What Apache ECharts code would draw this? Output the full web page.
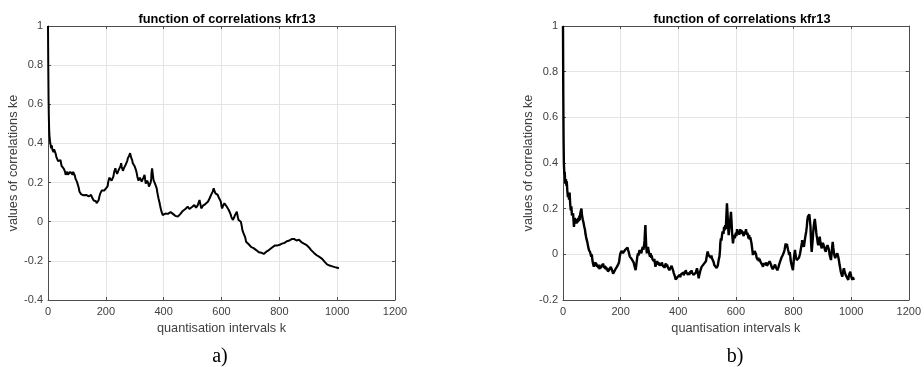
<!DOCTYPE html>
<html>
<head>
<meta charset="utf-8">
<script src="https://cdn.jsdelivr.net/npm/echarts@6/dist/echarts.min.js"></script>
<style>
html,body{margin:0;padding:0;background:#fff;}
#c{width:924px;height:367px;}
</style>
</head>
<body>
<div id="c"></div>
<script>
// ---- data ----
const chartTitle = "function of correlations kfr13";
const xAxisName = "quantisation intervals k";
const yAxisName = "values of correlations ke";
const xTicks = [0, 200, 400, 600, 800, 1000, 1200];
const yTicksA = [-0.4, -0.2, 0, 0.2, 0.4, 0.6, 0.8, 1];
const yTicksB = [-0.2, 0, 0.2, 0.4, 0.6, 0.8, 1];
const captions = ["a)", "b)"];

const kA = [0,1,2,3,4,5,7,9,11,13,15,17,19,21,23,25,27,29,31,33,35,37,39,41,43,45,47,49,51,53,55,57,59,61,63,65,67,69,71,73,75,77,79,81,83,85,87,89,91,93,95,97,100,103,106,109,112,115,118,120,123,126,129,132,135,138,141,143,146,149,152,155,158,160,163,166,168,170,172,175,178,181,183,186,189,192,195,198,201,203,206,208,210,212,214,216,218,220,222,224,226,229,231,233,235,237,239,241,243,245,247,249,251,253,255,257,259,261,263,265,268,270,272,274,276,278,280,282,284,286,287,289,291,293,295,297,299,302,304,306,307,309,311,313,314,316,318,320,322,324,326,328,330,332,334,336,338,339,341,343,345,347,349,351,353,355,357,358,360,361,363,365,367,370,372,374,376,378,380,382,385,388,391,394,397,400,403,406,409,412,415,418,421,424,426,429,432,435,437,440,443,446,449,452,455,458,460,463,466,469,472,475,478,480,483,486,489,492,495,498,501,504,506,509,512,515,518,521,524,527,530,533,536,539,541,544,547,550,553,556,559,561,564,567,570,573,575,577,579,581,584,587,590,592,595,598,600,602,605,608,610,612,614,616,619,622,625,628,631,634,637,639,641,643,645,647,649,651,653,655,657,659,661,663,665,667,669,671,672,674,676,678,680,682,685,688,691,694,697,700,703,706,709,711,714,717,720,723,726,729,732,735,738,741,743,746,749,752,755,758,761,764,767,770,772,775,778,781,784,787,789,792,795,798,801,804,806,809,812,815,818,821,823,826,829,832,835,838,841,844,846,847,849,851,853,856,859,862,865,868,870,873,876,878,880,882,885,888,890,893,896,899,902,905,908,910,913,916,919,922,925,928,931,934,937,940,943,945,948,951,954,957,960,962,965,968,971,974,977,980,983,986,989,992,995,997,1000,1003,1006,1008];
const vA = [1.0,0.78,0.62,0.53,0.47,0.44,0.41,0.40,0.375,0.39,0.37,0.36,0.355,0.37,0.375,0.365,0.345,0.33,0.34,0.32,0.31,0.305,0.315,0.30,0.315,0.30,0.285,0.28,0.29,0.275,0.27,0.265,0.255,0.24,0.23,0.245,0.255,0.24,0.235,0.23,0.245,0.255,0.265,0.25,0.245,0.24,0.255,0.25,0.245,0.235,0.22,0.213,0.205,0.196,0.175,0.153,0.145,0.14,0.145,0.137,0.135,0.14,0.138,0.137,0.132,0.135,0.13,0.128,0.133,0.137,0.125,0.115,0.108,0.102,0.098,0.105,0.094,0.092,0.10,0.11,0.13,0.145,0.153,0.16,0.155,0.158,0.16,0.165,0.158,0.16,0.18,0.2,0.213,0.225,0.215,0.22,0.22,0.21,0.218,0.213,0.23,0.255,0.265,0.273,0.26,0.25,0.245,0.255,0.26,0.25,0.256,0.265,0.285,0.299,0.28,0.27,0.26,0.265,0.275,0.28,0.29,0.285,0.295,0.31,0.324,0.33,0.335,0.345,0.35,0.34,0.33,0.335,0.315,0.30,0.29,0.295,0.285,0.28,0.265,0.255,0.247,0.23,0.22,0.21,0.205,0.21,0.225,0.215,0.22,0.205,0.21,0.213,0.225,0.23,0.24,0.215,0.195,0.188,0.20,0.21,0.22,0.195,0.18,0.17,0.185,0.20,0.22,0.25,0.273,0.265,0.235,0.213,0.205,0.195,0.19,0.188,0.17,0.15,0.135,0.12,0.102,0.08,0.06,0.045,0.034,0.038,0.04,0.042,0.042,0.045,0.04,0.045,0.048,0.05,0.051,0.045,0.04,0.036,0.034,0.03,0.035,0.028,0.026,0.03,0.035,0.04,0.042,0.048,0.055,0.05,0.06,0.065,0.07,0.072,0.077,0.07,0.065,0.072,0.068,0.075,0.08,0.082,0.085,0.078,0.072,0.08,0.085,0.095,0.111,0.09,0.068,0.075,0.082,0.08,0.085,0.09,0.095,0.10,0.102,0.11,0.12,0.13,0.137,0.14,0.155,0.171,0.16,0.15,0.145,0.14,0.145,0.137,0.125,0.12,0.111,0.10,0.08,0.068,0.08,0.09,0.094,0.09,0.085,0.085,0.075,0.065,0.06,0.051,0.04,0.025,0.015,0.009,0.015,0.02,0.026,0.035,0.042,0.045,0.051,0.035,0.02,0.009,0.012,0.008,0.009,0.0,-0.015,-0.03,-0.042,-0.05,-0.058,-0.063,-0.068,-0.08,-0.102,-0.108,-0.112,-0.115,-0.119,-0.125,-0.13,-0.128,-0.132,-0.135,-0.136,-0.14,-0.145,-0.148,-0.153,-0.156,-0.158,-0.16,-0.158,-0.16,-0.162,-0.165,-0.16,-0.158,-0.153,-0.15,-0.148,-0.145,-0.14,-0.138,-0.136,-0.132,-0.128,-0.125,-0.122,-0.12,-0.119,-0.122,-0.118,-0.115,-0.118,-0.112,-0.11,-0.112,-0.108,-0.106,-0.108,-0.104,-0.102,-0.1,-0.098,-0.1,-0.096,-0.095,-0.094,-0.088,-0.08,-0.077,-0.082,-0.088,-0.09,-0.092,-0.096,-0.098,-0.094,-0.092,-0.094,-0.1,-0.104,-0.1,-0.1,-0.108,-0.112,-0.108,-0.11,-0.118,-0.12,-0.125,-0.13,-0.135,-0.14,-0.145,-0.148,-0.152,-0.158,-0.162,-0.165,-0.17,-0.172,-0.175,-0.178,-0.18,-0.185,-0.187,-0.19,-0.195,-0.2,-0.205,-0.21,-0.213,-0.218,-0.222,-0.223,-0.224,-0.225,-0.225,-0.228,-0.23,-0.23,-0.232,-0.232,-0.233,-0.235,-0.236,-0.238,-0.237];

const kB = [0,1,2,3,4,5,6,7,8,10,12,13,15,17,19,21,23,25,27,29,31,33,35,37,38,40,41,43,45,47,49,51,53,55,57,58,60,62,64,66,67,69,71,72,74,76,78,79,81,83,85,87,89,90,92,94,96,98,100,102,104,106,107,109,111,113,115,116,118,120,122,124,125,127,129,131,133,135,137,139,141,143,145,147,149,150,152,154,156,158,160,162,164,166,168,170,172,174,176,178,180,182,183,185,187,189,191,193,195,197,199,201,203,205,206,208,210,212,214,216,218,220,222,224,226,228,230,232,234,236,238,240,243,245,247,249,250,252,254,256,258,260,262,264,266,268,270,272,274,276,277,279,281,283,285,286,287,289,291,293,295,297,299,300,302,304,306,308,310,311,313,315,317,319,321,323,325,327,329,331,333,335,337,339,341,343,345,346,348,350,352,354,355,357,359,361,363,365,367,369,371,373,375,377,379,380,382,384,386,388,389,391,393,395,397,399,401,403,405,407,409,411,413,415,417,419,421,423,425,426,428,430,432,434,436,438,440,442,444,446,448,449,451,453,455,457,459,461,463,465,467,469,471,473,475,477,479,481,483,485,487,489,491,493,494,496,498,500,502,504,506,508,509,511,513,515,517,519,521,523,525,527,529,531,533,535,537,539,541,543,545,546,548,550,552,554,555,557,559,561,563,565,567,569,571,573,575,577,579,581,583,585,587,589,590,592,594,596,598,600,602,604,606,608,610,612,613,615,617,619,621,623,625,627,629,631,633,635,636,638,640,642,644,646,648,650,652,654,656,658,659,661,663,665,668,670,672,674,676,678,680,682,685,687,689,691,694,696,698,700,702,704,706,708,711,713,715,717,720,722,724,726,728,730,732,734,736,738,740,742,744,746,748,750,752,754,756,758,760,762,765,767,769,771,773,775,777,779,781,783,785,787,789,790,792,794,796,798,800,802,804,805,807,809,811,813,815,817,819,821,823,825,827,829,830,832,834,836,838,840,842,844,846,848,850,851,853,855,857,859,861,863,865,867,868,870,872,874,875,877,879,880,882,884,886,887,889,891,893,895,897,898,900,902,904,905,907,909,911,912,914,916,918,921,923,925,927,930,932,934,936,938,940,942,945,947,950,952,954,956,958,960,962,964,966,969,971,973,975,977,979,981,983,985,987,990,992,994,997,999,1001,1004,1006,1008,1010,1012];
const vB = [1.0,0.70,0.50,0.40,0.37,0.35,0.36,0.33,0.31,0.33,0.30,0.32,0.28,0.25,0.27,0.24,0.27,0.22,0.193,0.21,0.17,0.164,0.18,0.14,0.12,0.15,0.16,0.14,0.15,0.135,0.155,0.14,0.16,0.145,0.17,0.15,0.18,0.185,0.20,0.17,0.164,0.15,0.14,0.135,0.12,0.11,0.09,0.092,0.07,0.062,0.05,0.035,0.03,0.019,0.025,0.01,0.004,-0.01,0.0,-0.025,-0.04,-0.035,-0.054,-0.045,-0.05,-0.035,-0.05,-0.04,-0.055,-0.045,-0.06,-0.045,-0.054,-0.065,-0.05,-0.06,-0.061,-0.045,-0.055,-0.04,-0.047,-0.06,-0.05,-0.065,-0.055,-0.061,-0.07,-0.06,-0.075,-0.068,-0.076,-0.065,-0.07,-0.055,-0.054,-0.068,-0.075,-0.085,-0.09,-0.078,-0.08,-0.065,-0.07,-0.06,-0.055,-0.06,-0.054,-0.04,-0.03,-0.01,0.004,0.0,0.015,0.01,0.019,0.005,0.012,0.0,0.004,0.02,0.015,0.026,0.02,0.03,0.019,0.01,0.0,-0.01,-0.017,-0.01,-0.02,-0.015,-0.025,-0.035,-0.045,-0.055,-0.06,-0.069,-0.05,-0.03,-0.01,0.004,-0.005,0.01,0.019,0.005,0.015,0.004,0.02,0.025,0.033,0.02,0.035,0.06,0.11,0.128,0.09,0.03,0.004,0.02,0.033,0.015,0.02,0.0,-0.01,0.005,-0.015,-0.005,-0.02,-0.025,-0.015,-0.03,-0.02,-0.04,-0.054,-0.04,-0.045,-0.03,-0.032,-0.045,-0.035,-0.05,-0.054,-0.04,-0.05,-0.035,-0.045,-0.04,-0.055,-0.045,-0.06,-0.05,-0.054,-0.04,-0.055,-0.045,-0.047,-0.06,-0.055,-0.07,-0.069,-0.06,-0.065,-0.05,-0.06,-0.054,-0.07,-0.08,-0.075,-0.095,-0.098,-0.11,-0.105,-0.112,-0.1,-0.095,-0.105,-0.098,-0.09,-0.1,-0.088,-0.095,-0.085,-0.09,-0.08,-0.092,-0.085,-0.075,-0.085,-0.069,-0.08,-0.085,-0.075,-0.09,-0.08,-0.09,-0.085,-0.075,-0.085,-0.07,-0.08,-0.076,-0.085,-0.09,-0.085,-0.098,-0.085,-0.08,-0.07,-0.061,-0.075,-0.09,-0.105,-0.09,-0.08,-0.07,-0.065,-0.055,-0.054,-0.06,-0.045,-0.05,-0.04,-0.045,-0.047,-0.03,-0.015,0.0,0.012,0.005,-0.005,0.0,-0.01,0.0,-0.015,-0.005,-0.017,-0.025,-0.02,-0.035,-0.047,-0.04,-0.055,-0.05,-0.06,-0.061,-0.05,-0.035,-0.02,-0.01,0.02,0.05,0.07,0.06,0.085,0.1,0.106,0.09,0.12,0.105,0.128,0.11,0.17,0.223,0.18,0.12,0.084,0.11,0.13,0.16,0.186,0.14,0.09,0.06,0.048,0.07,0.085,0.07,0.077,0.095,0.08,0.11,0.106,0.09,0.10,0.085,0.092,0.11,0.09,0.105,0.113,0.095,0.10,0.08,0.084,0.10,0.09,0.11,0.106,0.085,0.095,0.08,0.07,0.085,0.065,0.075,0.07,0.05,0.03,0.01,-0.003,0.01,0.0,0.015,0.019,0.0,-0.015,-0.01,-0.025,-0.015,-0.03,-0.02,-0.032,-0.04,-0.03,-0.045,-0.054,-0.04,-0.045,-0.035,-0.032,-0.045,-0.035,-0.05,-0.054,-0.04,-0.045,-0.03,-0.032,-0.045,-0.055,-0.06,-0.065,-0.069,-0.055,-0.06,-0.045,-0.047,-0.06,-0.055,-0.07,-0.069,-0.055,-0.045,-0.04,-0.03,-0.025,-0.015,-0.02,-0.005,-0.003,0.01,0.02,0.035,0.048,0.03,0.045,0.04,0.02,0.01,-0.003,0.01,-0.01,-0.025,-0.04,-0.05,-0.06,-0.069,-0.04,-0.01,0.01,0.019,0.0,-0.015,-0.025,-0.032,-0.02,-0.025,-0.015,-0.01,0.005,0.02,0.035,0.05,0.062,0.045,0.04,0.033,0.05,0.07,0.085,0.099,0.12,0.15,0.165,0.172,0.16,0.175,0.177,0.12,0.05,0.011,0.04,0.07,0.092,0.12,0.14,0.155,0.157,0.12,0.095,0.084,0.07,0.05,0.04,0.033,0.06,0.077,0.055,0.04,0.035,0.026,0.04,0.05,0.045,0.048,0.03,0.02,0.015,0.011,0.025,0.03,0.04,0.033,0.02,0.0,-0.01,-0.025,0.0,0.03,0.055,0.03,0.01,-0.005,-0.017,-0.005,0.0,0.004,0.004,-0.015,-0.03,-0.047,-0.06,-0.075,-0.085,-0.098,-0.085,-0.07,-0.061,-0.075,-0.08,-0.09,-0.09,-0.1,-0.105,-0.112,-0.095,-0.085,-0.076,-0.09,-0.1,-0.112,-0.1,-0.11,-0.105,-0.105];

// ---- chart ----
const pairs = (ks, vs) => ks.map((k, i) => [k, vs[i]]);
const fmtY = v => String(Math.round(v * 10) / 10);
const fmtX = v => String(Math.round(v));
const axisCol = '#4d4d4d';
const labelCol = '#404040';
const FONT = '"Liberation Sans", Arial, sans-serif';

function xAx(gi, bottom, name) {
  return {
    type: 'value', gridIndex: gi, position: bottom ? 'bottom' : 'top',
    min: xTicks[0], max: xTicks[xTicks.length - 1], interval: xTicks[1] - xTicks[0],
    name: bottom ? name : '', nameLocation: 'middle', nameGap: 21,
    nameTextStyle: { color: labelCol, fontSize: 12.7, fontFamily: FONT },
    axisLine: { show: true, onZero: false, lineStyle: { color: axisCol, width: 1 } },
    axisTick: { show: true, inside: true, length: 3, lineStyle: { color: axisCol } },
    axisLabel: { show: bottom, color: labelCol, fontSize: 11, fontFamily: FONT, margin: 6, formatter: fmtX },
    splitLine: { show: bottom, lineStyle: { color: '#e4e4e4', width: 1 } }
  };
}
function yAx(gi, left, ticks, name) {
  return {
    type: 'value', gridIndex: gi, position: left ? 'left' : 'right',
    min: ticks[0], max: ticks[ticks.length - 1], interval: 0.2,
    name: left ? name : '', nameLocation: 'middle', nameGap: 27,
    nameTextStyle: { color: labelCol, fontSize: 12.7, fontFamily: FONT },
    axisLine: { show: true, onZero: false, lineStyle: { color: axisCol, width: 1 } },
    axisTick: { show: true, inside: true, length: 3, lineStyle: { color: axisCol } },
    axisLabel: { show: left, color: labelCol, fontSize: 11, fontFamily: FONT, margin: 5, formatter: fmtY },
    splitLine: { show: left, lineStyle: { color: '#e4e4e4', width: 1 } }
  };
}

const chart = echarts.init(document.getElementById('c'), null, { renderer: 'canvas' });
chart.setOption({
  animation: false,
  backgroundColor: '#fff',
  title: [
    { text: chartTitle, left: 222, top: 8, textAlign: 'center',
      textStyle: { fontSize: 12.8, fontWeight: 'bold', color: '#000', fontFamily: FONT } },
    { text: chartTitle, left: 737, top: 8, textAlign: 'center',
      textStyle: { fontSize: 12.8, fontWeight: 'bold', color: '#000', fontFamily: FONT } },
    { text: captions[0], left: 215, top: 342, textAlign: 'center',
      textStyle: { fontSize: 20, fontWeight: 'normal', color: '#000', fontFamily: '"Liberation Serif", "Times New Roman", serif' } },
    { text: captions[1], left: 730, top: 342, textAlign: 'center',
      textStyle: { fontSize: 20, fontWeight: 'normal', color: '#000', fontFamily: '"Liberation Serif", "Times New Roman", serif' } }
  ],
  grid: [
    { left: 48, top: 26, width: 347, height: 274, containLabel: false },
    { left: 563, top: 26, width: 347, height: 274, containLabel: false }
  ],
  xAxis: [xAx(0, true, xAxisName), xAx(0, false), xAx(1, true, xAxisName), xAx(1, false)],
  yAxis: [yAx(0, true, yTicksA, yAxisName), yAx(0, false, yTicksA), yAx(1, true, yTicksB, yAxisName), yAx(1, false, yTicksB)],
  series: [
    { type: 'line', xAxisIndex: 0, yAxisIndex: 0, data: pairs(kA, vA), showSymbol: false,
      lineStyle: { color: '#000', width: 2 }, silent: true },
    { type: 'line', xAxisIndex: 2, yAxisIndex: 2, data: pairs(kB, vB), showSymbol: false,
      lineStyle: { color: '#000', width: 2.4 }, silent: true }
  ]
});
</script>
</body>
</html>
